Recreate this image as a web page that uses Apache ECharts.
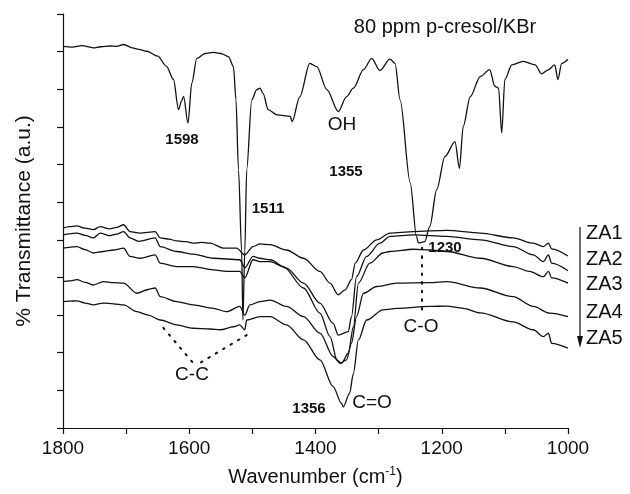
<!DOCTYPE html>
<html>
<head>
<meta charset="utf-8">
<script src="https://cdn.jsdelivr.net/npm/echarts@6/dist/echarts.min.js"></script>
<style>html,body{margin:0;padding:0;background:#fff}#c{width:630px;height:494px}</style>
</head>
<body>
<div id="c"></div>
<script>
// Wavenumber (cm-1) and transmittance (a.u.) pairs
var pCresol = [
 [1800,10.14],[1785,10.12],[1770,10.16],[1752,10.10],[1740,10.13],[1725,10.15],[1715,10.14],[1704,10.19],[1690,10.10],[1680,10.06],[1667,10.01],
 [1650,9.88],[1636,9.61],[1625,9.26],[1617,8.46],[1612,8.70],[1609,8.81],[1602,8.10],[1596,9.16],[1588,9.82],[1575,9.95],[1562,9.98],
 [1550,9.95],[1538,9.87],[1530,9.61],[1526,8.72],[1522,6.86],[1517,4.70],[1515,2.87],[1512,4.70],[1509,6.86],[1501,8.72],
 [1493,8.99],[1488,9.03],[1483,8.89],[1475,8.46],[1461,8.32],[1440,8.28],[1437,8.14],[1425,8.80],[1409,9.69],[1398,9.60],
 [1382,8.99],[1364,8.41],[1351,8.80],[1340,9.03],[1324,9.52],[1311,9.82],[1298,9.50],[1282,9.80],[1274,9.69],[1266,8.72],
 [1250,6.52],[1240,5.09],[1237,4.92],[1227,4.95],[1219,5.35],[1208,6.33],[1195,7.21],[1179,7.61],[1172,6.90],[1166,8.01],
 [1155,8.80],[1139,9.34],[1124,9.52],[1116,9.08],[1110,9.03],[1105,7.84],[1100,9.26],[1089,9.65],[1071,9.74],[1052,9.65],
 [1042,9.41],[1032,9.51],[1021,9.65],[1016,9.26],[1010,9.69],[1000,9.80]
];
var za1 = [
 [1800,5.31],[1790,5.35],[1778,5.37],[1765,5.31],[1752,5.27],[1741,5.35],[1726,5.29],[1715,5.33],[1704,5.40],[1694,5.22],[1678,5.18],[1654,5.22],[1646,5.05],
 [1632,5.02],[1620,4.97],[1605,4.95],[1594,4.91],[1580,4.93],[1567,4.91],[1546,4.78],[1525,4.78],[1512,4.60],[1499,4.82],[1488,4.89],[1472,4.87],[1446,4.73],
 [1419,4.51],[1393,4.16],[1377,3.85],[1364,3.54],[1353,3.67],[1343,3.94],[1337,4.38],[1324,4.73],[1303,5.00],[1282,5.18],
 [1245,5.22],[1192,5.25],[1139,5.18],[1087,5.05],[1055,4.91],[1039,4.82],[1031,4.91],[1026,4.76],[1000,4.57]
];
var za2 = [
 [1800,5.13],[1790,5.16],[1778,5.18],[1765,5.12],[1752,5.05],[1741,5.18],[1726,5.11],[1715,5.15],[1704,5.22],[1694,5.05],[1680,4.96],[1654,5.05],[1646,4.82],
 [1620,4.69],[1594,4.62],[1562,4.51],[1520,4.47],[1512,4.26],[1499,4.56],[1488,4.51],[1472,4.47],[1446,4.25],[1419,3.85],
 [1393,3.32],[1372,2.78],[1364,2.47],[1348,2.56],[1343,2.96],[1335,4.02],[1319,4.56],[1298,4.91],[1282,5.09],[1245,5.13],
 [1192,5.09],[1139,5.00],[1087,4.82],[1055,4.60],[1039,4.42],[1031,4.60],[1026,4.38],[1000,4.18]
];
var za3 = [
 [1800,4.78],[1790,4.80],[1778,4.82],[1765,4.74],[1752,4.65],[1736,4.69],[1720,4.73],[1704,4.78],[1694,4.56],[1678,4.51],[1654,4.60],[1646,4.38],[1620,4.29],
 [1594,4.29],[1562,4.20],[1541,4.16],[1520,4.16],[1512,3.99],[1499,4.47],[1488,4.42],[1472,4.42],[1451,4.29],[1419,3.72],
 [1393,3.05],[1377,2.43],[1366,1.81],[1359,1.72],[1348,1.99],[1340,2.69],[1332,3.85],[1314,4.38],[1293,4.65],[1282,4.69],
 [1245,4.75],[1219,4.73],[1192,4.69],[1139,4.51],[1087,4.29],[1061,4.16],[1039,4.02],[1031,4.16],[1026,3.99],[1000,3.85]
];
var za4 = [
 [1800,3.89],[1790,3.91],[1778,3.94],[1765,3.87],[1752,3.80],[1736,3.89],[1720,3.86],[1704,3.85],[1683,3.58],[1665,3.68],[1654,3.72],[1646,3.49],[1620,3.36],[1594,3.27],
 [1562,3.18],[1541,3.09],[1520,3.23],[1512,3.00],[1504,3.27],[1488,3.36],[1472,3.40],[1446,3.23],[1419,2.96],[1393,2.52],
 [1372,1.90],[1361,1.72],[1351,1.81],[1343,2.25],[1335,2.96],[1324,3.58],[1303,3.76],[1271,3.85],[1219,3.86],[1192,3.89],
 [1139,3.72],[1087,3.49],[1055,3.23],[1029,3.05],[1000,2.96]
];
var za5 = [
 [1800,3.36],[1790,3.37],[1778,3.38],[1765,3.32],[1752,3.27],[1736,3.32],[1720,3.30],[1704,3.27],[1683,3.09],[1665,3.00],[1646,2.87],[1620,2.74],[1594,2.65],[1567,2.63],
 [1551,2.61],[1530,2.69],[1520,2.74],[1512,2.61],[1509,2.87],[1488,2.96],[1472,2.96],[1446,2.74],[1419,2.34],[1393,1.81],
 [1372,1.10],[1359,0.66],[1356,0.56],[1346,0.92],[1340,1.45],[1332,2.34],[1319,2.87],[1293,3.14],[1271,3.18],[1219,3.23],
 [1192,3.24],[1166,3.18],[1139,3.06],[1087,2.82],[1055,2.61],[1039,2.43],[1031,2.52],[1026,2.25],[1000,2.12]
];
var seriesNames = ['p-cresol/KBr','ZA1','ZA2','ZA3','ZA4','ZA5'];
var xTicks = [1800,1600,1400,1200,1000];
// guide lines (wavenumber, transmittance)
var ccGuideLeft = [[1641,2.66],[1594,1.73]];
var ccGuideRight = [[1509,2.47],[1583,1.73]];
var coGuide = [[1232,4.79],[1232,3.06]];

var FONT = 'Liberation Sans, Arial, Helvetica, sans-serif';
var chart = echarts.init(document.getElementById('c'), null, {renderer:'canvas'});
function mk(name, data){
  return {name:name, type:'line', data:data, symbol:'none', smooth:0.3, smoothMonotone:'x',
    lineStyle:{color:'#111', width:1.3}, silent:true, animation:false};
}
var allData = [pCresol, za1, za2, za3, za4, za5];
var series = allData.map(function(d,i){return mk(seriesNames[i], d);});
series[0].markLine = {
  silent:true, symbol:['none','none'], animation:false,
  label:{show:false},
  lineStyle:{color:'#111', type:[1.6,7], width:2, cap:'round'},
  data:[
    [{coord:ccGuideLeft[0]},{coord:ccGuideLeft[1]}],
    [{coord:ccGuideRight[0]},{coord:ccGuideRight[1]}],
    [{coord:coGuide[0]},{coord:coGuide[1]}]
  ]
};
function txt(x,y,s,size,bold,align){
  return {type:'text', x:x, y:y, silent:true,
    style:{text:s, x:0, y:0, fill:'#111', font:(bold?'bold ':'')+size+'px '+FONT,
      textAlign:align||'center', textVerticalAlign:'middle'}};
}
var graphics = [
  txt(445,27,'80 ppm p-cresol/KBr',20,false),
  txt(182,140,'1598',15,true),
  txt(342,125,'OH',19,false),
  txt(346,172,'1355',15,true),
  txt(268,209,'1511',15,true),
  txt(445,248,'1230',15,true),
  txt(421,327,'C-O',19,false),
  txt(372,403,'C=O',19,false),
  txt(309,409,'1356',15,true),
  txt(192,375,'C-C',19,false),
  txt(586,233,'ZA1',20,false,'left'),
  txt(586,259,'ZA2',20,false,'left'),
  txt(586,284,'ZA3',20,false,'left'),
  txt(586,312,'ZA4',20,false,'left'),
  txt(586,338,'ZA5',20,false,'left'),
  {type:'line', silent:true, shape:{x1:580,y1:227,x2:580,y2:338}, style:{stroke:'#111', lineWidth:1.2}},
  {type:'polygon', silent:true, shape:{points:[[577,336],[583,336],[580,348]]}, style:{fill:'#111'}}
];
chart.setOption({
  animation:false,
  backgroundColor:'#fff',
  grid:{left:63, right:62, top:14, bottom:66, containLabel:false},
  xAxis:{type:'value', inverse:true, min:1000, max:1800, interval:100,
    name:'Wavenumber (cm{sup|-1})', nameLocation:'middle', nameGap:38,
    nameTextStyle:{fontFamily:FONT, fontSize:20, color:'#111',
      rich:{sup:{fontFamily:FONT, fontSize:12, color:'#111', verticalAlign:'top', padding:[0,0,10,0]}}},
    axisLine:{onZero:false, lineStyle:{color:'#111', width:1.2}},
    axisTick:{inside:false, length:6, lineStyle:{color:'#111', width:1.2}},
    axisLabel:{margin:11, fontFamily:FONT, fontSize:19, color:'#111',
      formatter:function(v){return xTicks.indexOf(v)>=0 ? String(v) : '';}},
    splitLine:{show:false}},
  yAxis:{type:'value', min:0, max:11, interval:1,
    name:'% Transmittance (a.u.)', nameLocation:'middle', nameGap:28, nameRotate:90,
    nameTextStyle:{fontFamily:FONT, fontSize:21, color:'#111'},
    axisLine:{show:true, onZero:false, lineStyle:{color:'#111', width:1.2}},
    axisTick:{show:true, inside:false, length:6, lineStyle:{color:'#111', width:1.2}},
    axisLabel:{show:false}, splitLine:{show:false}},
  graphic:graphics,
  series:series
});
</script>
</body>
</html>
